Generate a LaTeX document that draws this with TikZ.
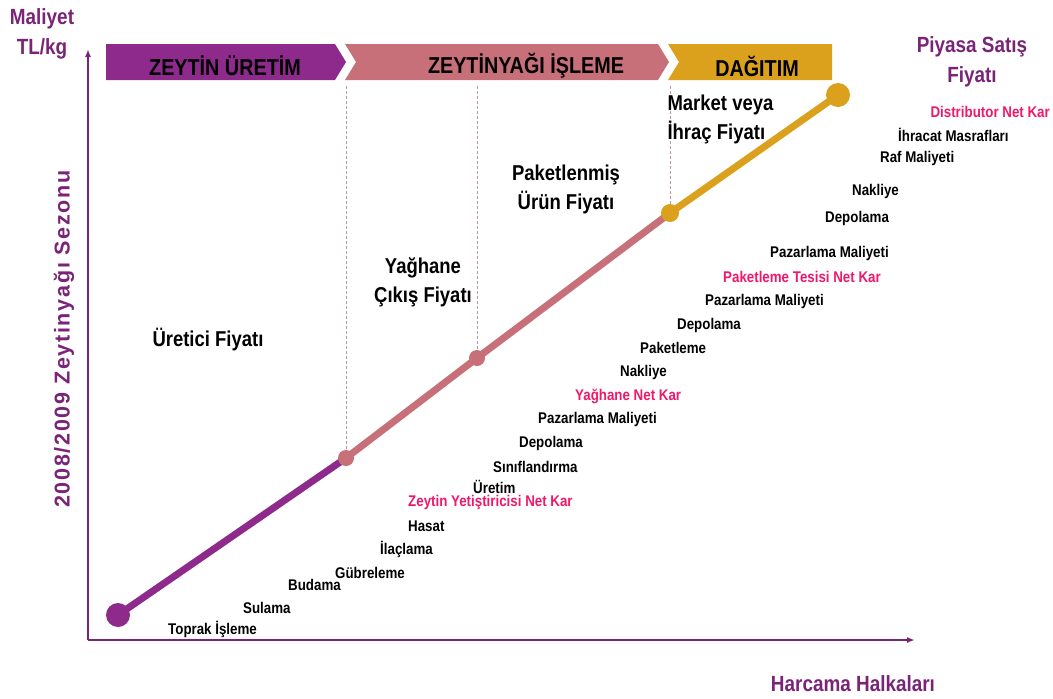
\documentclass[tikz,border=0pt]{standalone}
\usepackage{fontspec}
\setmainfont{Liberation Sans}[FakeStretch=0.86]
\newfontfamily\widefont{Liberation Sans}[LetterSpace=8]
\usetikzlibrary{arrows.meta}
\definecolor{axispurple}{HTML}{7A2478}
\definecolor{stagepurple}{HTML}{8E2A8C}
\definecolor{stagepink}{HTML}{C7707A}
\definecolor{stagegold}{HTML}{DBA11C}
\definecolor{netred}{HTML}{F0186A}
\definecolor{guide}{HTML}{B89AA8}
\tikzset{
  axis/.style={draw=axispurple, line width=2pt, -{Latex[length=8pt,width=6pt]}},
  stagetext/.style={font=\fontsize{23}{25}\selectfont\bfseries, text=black},
  pricelabel/.style={font=\fontsize{21.5}{29}\selectfont\bfseries, align=center, text=black},
  axislabel/.style={font=\fontsize{22}{30}\selectfont\bfseries, text=axispurple, align=center},
  cost/.style={anchor=west, font=\fontsize{15.5}{17}\selectfont\bfseries, text=black, inner sep=0pt},
  netkar/.style={cost, text=netred},
  seg/.style={line width=7pt, line cap=round},
  guideline/.style={draw=guide, dashed, dash pattern=on 3pt off 2pt, line width=0.6pt}
}
\begin{document}
\begin{tikzpicture}[x=1pt, y=-1pt]
\useasboundingbox[fill=white] (0,0) rectangle (1053,699);

% stage banner: three chevrons
\fill[stagepurple] (106,44) -- (335,44) -- (346,62) -- (335,80) -- (106,80) -- cycle;
\fill[stagepink] (345,44) -- (658,44) -- (669,62) -- (658,80) -- (345,80) -- (356,62) -- cycle;
\fill[stagegold] (668,44) -- (832,44) -- (832,80) -- (668,80) -- (679,62) -- cycle;
\node[stagetext] (s1) at (225,66) {ZEYTİN ÜRETİM};
\node[stagetext] (s2) at (526,66) {ZEYTİNYAĞI İŞLEME};
\node[stagetext] (s3) at (757,66) {DAĞITIM};

% price points
\coordinate (p0) at (118,615);
\coordinate (p1) at (346,458);
\coordinate (p2) at (477,358);
\coordinate (p3) at (670,213);
\coordinate (p4) at (838,95);

% dashed guides from the banner down to the price points
\coordinate (g1) at (346,86);
\coordinate (g2) at (477,86);
\coordinate (g3) at (670,86);
\draw[guideline] (g1) -- (p1);
\draw[guideline] (g2) -- (p2);
\draw[guideline] (g3) -- (p3);

% axes
\coordinate (origin) at (88,640);
\coordinate (ytop) at (88,49);
\coordinate (xend) at (915,640);
\draw[axis] (origin) -- (ytop);
\draw[axis] (origin) -- (xend);

% value chain line
\draw[seg, stagepurple] (p0) -- (p1);
\draw[seg, stagepink] (p1) -- (p2) -- (p3);
\draw[seg, stagegold] (p3) -- (p4);
\fill[stagepurple] (p0) circle (12);
\fill[stagepink] (p1) circle (8);
\fill[stagepink] (p2) circle (8);
\fill[stagegold] (p3) circle (9);
\fill[stagegold] (p4) circle (12);

% axis labels
\node[axislabel] (ylab) at (42,34) {Maliyet\\TL/kg};
\node[axislabel, font=\widefont\fontsize{21.5}{24}\selectfont\bfseries] (season) at (64,339) [rotate=90] {2008/2009 Zeytinyağı Sezonu};
\node[axislabel] (xlab) at (853,684) {Harcama Halkaları};
\node[axislabel] (retail) at (972,62) {Piyasa Satış\\Fiyatı};

% price labels
\node[pricelabel] (l0) at (208,340) {Üretici Fiyatı};
\node[pricelabel] (l1) at (423,282) {Yağhane\\Çıkış Fiyatı};
\node[pricelabel] (l2) at (566,189) {Paketlenmiş\\Ürün Fiyatı};
\node[pricelabel, align=left, anchor=west] (l3) at (664,119) {Market veya\\İhraç Fiyatı};

% cost items
\node[cost] (c1) at (168,629) {Toprak İşleme};
\node[cost] (c2) at (243,608) {Sulama};
\node[cost] (c3) at (288,585) {Budama};
\node[cost] (c4) at (335,573) {Gübreleme};
\node[cost] (c5) at (380,549) {İlaçlama};
\node[cost] (c6) at (408,526) {Hasat};
\node[netkar] (c7) at (408,502) {Zeytin Yetiştiricisi Net Kar};
\node[cost] (c8) at (473,487) {Üretim};
\node[cost] (c9) at (493,467) {Sınıflandırma};
\node[cost] (c10) at (519,443) {Depolama};
\node[cost] (c11) at (538,419) {Pazarlama Maliyeti};
\node[netkar] (c12) at (575,396) {Yağhane Net Kar};
\node[cost] (c13) at (620,372) {Nakliye};
\node[cost] (c14) at (640,348) {Paketleme};
\node[cost] (c15) at (677,325) {Depolama};
\node[cost] (c16) at (705,301) {Pazarlama Maliyeti};
\node[netkar] (c17) at (723,277) {Paketleme Tesisi Net Kar};
\node[cost] (c18) at (770,253) {Pazarlama Maliyeti};
\node[cost] (c19) at (825,218) {Depolama};
\node[cost] (c20) at (852,191) {Nakliye};
\node[cost] (c21) at (880,158) {Raf Maliyeti};
\node[cost] (c22) at (898,135) {İhracat Masrafları};
\node[netkar, anchor=east] (c23) at (1050,112) {Distributor Net Kar};
\end{tikzpicture}
\end{document}
